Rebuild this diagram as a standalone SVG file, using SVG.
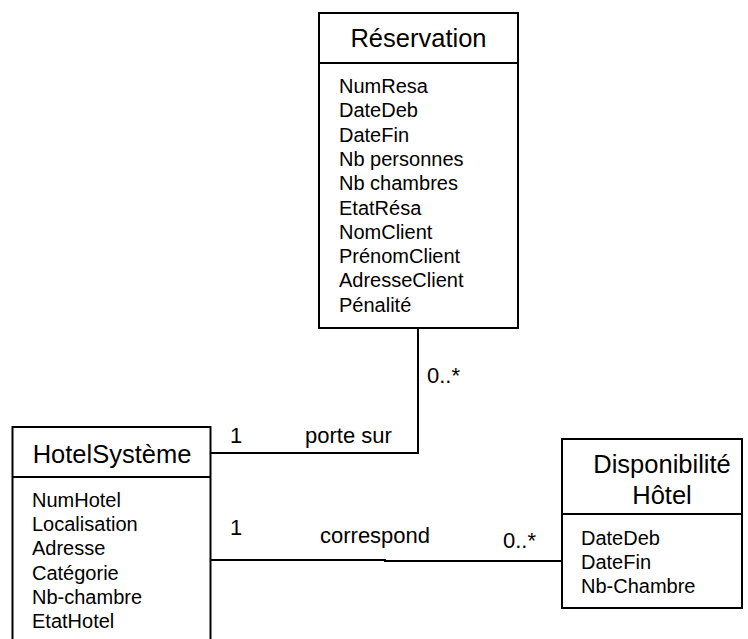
<svg xmlns="http://www.w3.org/2000/svg" width="748" height="639" viewBox="0 0 748 639">
<style>
.box{fill:#fff;stroke:#000;stroke-width:2}
.ln{fill:none;stroke:#000;stroke-width:2}
.t{font-family:"Liberation Sans",Arial,sans-serif;font-size:25.5px;fill:#000;text-anchor:middle}
.a{font-family:"Liberation Sans",Arial,sans-serif;font-size:20px;fill:#000}
.l{font-family:"Liberation Sans",Arial,sans-serif;font-size:22px;fill:#000}
</style>
<rect width="748" height="639" fill="#fff"/>
<g id="connectors">
<polyline class="ln" points="418,328 418,453 211,453"/>
<polyline class="ln" points="211,560 385,560 385,561 562,561"/>
<text class="l" x="427" y="383">0..*</text>
<text class="l" x="230" y="443">1</text>
<text class="l" x="305" y="443">porte sur</text>
<text class="l" x="230" y="535">1</text>
<text class="l" x="320" y="543">correspond</text>
<text class="l" x="503" y="548">0..*</text>
</g>
<g id="reservation">
<rect class="box" x="319" y="13" width="199" height="315"/>
<line class="ln" x1="319" y1="63" x2="518" y2="63"/>
<text class="t" x="418.5" y="47">Réservation</text>
<text class="a" x="339" y="93">NumResa</text>
<text class="a" x="339" y="117.3">DateDeb</text>
<text class="a" x="339" y="141.6">DateFin</text>
<text class="a" x="339" y="165.9">Nb personnes</text>
<text class="a" x="339" y="190.2">Nb chambres</text>
<text class="a" x="339" y="214.5">EtatRésa</text>
<text class="a" x="339" y="238.8">NomClient</text>
<text class="a" x="339" y="263.1">PrénomClient</text>
<text class="a" x="339" y="287.4">AdresseClient</text>
<text class="a" x="339" y="311.7">Pénalité</text>
</g>
<g id="hotelsysteme">
<rect class="box" x="12.5" y="427" width="198" height="230"/>
<line class="ln" x1="12.5" y1="477" x2="210.5" y2="477"/>
<text class="t" x="112" y="463">HotelSystème</text>
<text class="a" x="32" y="507">NumHotel</text>
<text class="a" x="32" y="531.2">Localisation</text>
<text class="a" x="32" y="555.4">Adresse</text>
<text class="a" x="32" y="579.6">Catégorie</text>
<text class="a" x="32" y="603.8">Nb-chambre</text>
<text class="a" x="32" y="628">EtatHotel</text>
</g>
<g id="disponibilite">
<rect class="box" x="562" y="439" width="180" height="169"/>
<line class="ln" x1="562" y1="514" x2="742" y2="514"/>
<text class="t" x="662" y="473">Disponibilité</text>
<text class="t" x="662" y="504">Hôtel</text>
<text class="a" x="581" y="545">DateDeb</text>
<text class="a" x="581" y="569">DateFin</text>
<text class="a" x="581" y="593">Nb-Chambre</text>
</g>
</svg>
